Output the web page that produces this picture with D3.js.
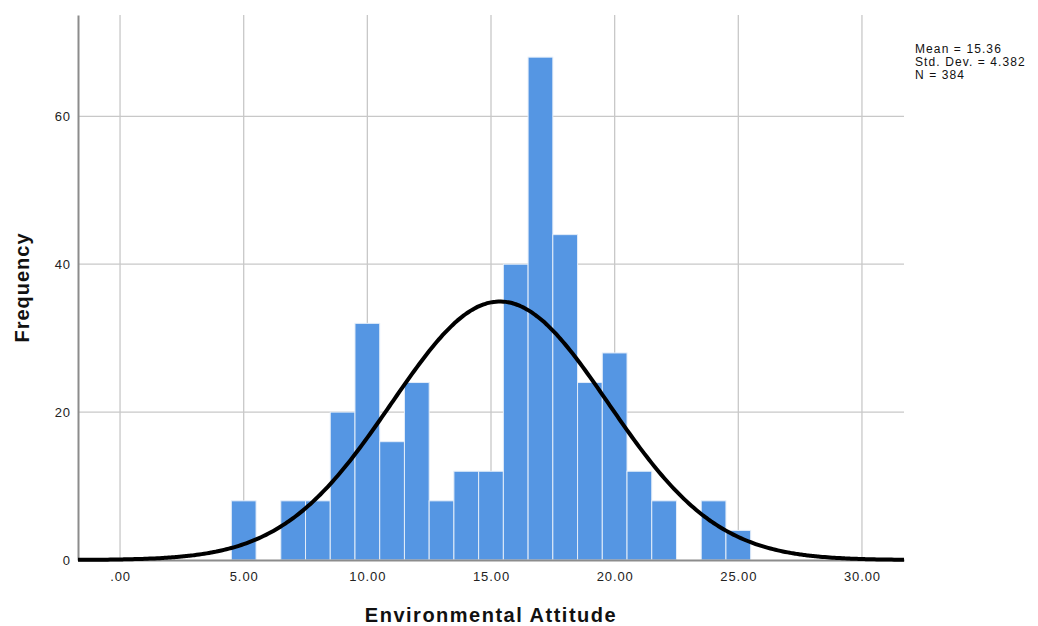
<!DOCTYPE html>
<html>
<head>
<meta charset="utf-8">
<script src="https://cdn.jsdelivr.net/npm/d3@7"></script>
<style>
    body { margin: 0; background: #fff; }
    svg { display: block; font-family: "Liberation Sans", Arial, sans-serif; }
</style>
</head>
<body>
<div id="chart"></div>
<script>
// Histogram bins (centre value of each 1-unit bin) and their counts
const binCenters = [5, 6, 7, 8, 9, 10, 11, 12, 13, 14, 15, 16, 17, 18, 19, 20, 21, 22, 23, 24, 25];
const counts = [8, 0, 8, 8, 20, 32, 16, 24, 8, 12, 12, 40, 68, 44, 24, 28, 12, 8, 0, 8, 4];

const xTicks = [0, 5, 10, 15, 20, 25, 30];
const yTicks = [0, 20, 40, 60];

// Summary statistics shown in the corner
const mean = 15.36;
const stdDev = 4.382;
const n = 384;
const statLines = ['Mean = 15.36', 'Std. Dev. = 4.382', 'N = 384'];

const width = 1038, height = 626;
const margin = { left: 78, right: 134, top: 15, bottom: 66 };

const svg = d3.select('#chart')
    .append('svg')
    .attr('width', width)
    .attr('height', height);

const x = d3.scaleLinear()
    .domain([-1.7, 31.7])
    .range([margin.left, width - margin.right]);

const y = d3.scaleLinear()
    .domain([0, 73.7])
    .range([height - margin.bottom, margin.top]);

// Gridlines
svg.append('g')
    .selectAll('line.vgrid')
    .data(xTicks)
    .enter()
    .append('line')
    .attr('x1', d => x(d)).attr('x2', d => x(d))
    .attr('y1', y.range()[1]).attr('y2', y.range()[0])
    .attr('stroke', '#c8c8c8')
    .attr('stroke-width', 1.3);

svg.append('g')
    .selectAll('line.hgrid')
    .data(yTicks.filter(d => d > 0))
    .enter()
    .append('line')
    .attr('x1', x.range()[0]).attr('x2', x.range()[1])
    .attr('y1', d => y(d)).attr('y2', d => y(d))
    .attr('stroke', '#c8c8c8')
    .attr('stroke-width', 1.3);

// Bars
const bins = binCenters.map((c, i) => ({ c, v: counts[i] })).filter(d => d.v > 0);
svg.append('g')
    .selectAll('rect')
    .data(bins)
    .enter()
    .append('rect')
    .attr('x', d => x(d.c - 0.5))
    .attr('width', d => x(d.c + 0.5) - x(d.c - 0.5))
    .attr('y', d => y(d.v))
    .attr('height', d => y(0) - y(d.v))
    .attr('fill', '#5596e3')
    .attr('stroke', '#e3edf9')
    .attr('stroke-width', 1);

// Axes
const xAxis = svg.append('g')
    .attr('transform', `translate(0,${y(0)})`)
    .call(d3.axisBottom(x)
        .tickValues(xTicks)
        .tickSize(0)
        .tickPadding(12)
        .tickFormat(d => d === 0 ? '.00' : d3.format('.2f')(d)));
xAxis.select('.domain').attr('stroke', '#8c8c8c').attr('stroke-width', 2);
xAxis.selectAll('text')
    .attr('font-size', 13)
    .attr('letter-spacing', '0.9px')
    .attr('fill', '#222')
    .attr('font-family', '"Liberation Sans", Arial, sans-serif');

const yAxis = svg.append('g')
    .attr('transform', `translate(${x.range()[0]},0)`)
    .call(d3.axisLeft(y)
        .tickValues(yTicks)
        .tickSize(0)
        .tickPadding(7));
yAxis.select('.domain').attr('stroke', '#8c8c8c').attr('stroke-width', 2);
yAxis.selectAll('text')
    .attr('font-size', 13)
    .attr('letter-spacing', '0.9px')
    .attr('fill', '#222')
    .attr('font-family', '"Liberation Sans", Arial, sans-serif');

// Normal curve from the reported mean / SD / N (bin width 1)
const pdf = v => n * Math.exp(-0.5 * Math.pow((v - mean) / stdDev, 2)) / (stdDev * Math.sqrt(2 * Math.PI));
const curveXs = d3.range(x.domain()[0], x.domain()[1] + 0.001, 0.1);
svg.append('path')
    .datum(curveXs)
    .attr('fill', 'none')
    .attr('stroke', '#000')
    .attr('stroke-width', 4)
    .attr('stroke-linejoin', 'round')
    .attr('d', d3.line().x(d => x(d)).y(d => y(pdf(d))).curve(d3.curveBasis));

// Axis titles
svg.append('text')
    .attr('x', x(15))
    .attr('y', 622)
    .attr('text-anchor', 'middle')
    .attr('font-size', 20)
    .attr('font-weight', 'bold')
    .attr('letter-spacing', '1.5px')
    .attr('fill', '#111')
    .text('Environmental Attitude');

svg.append('text')
    .attr('transform', `translate(29,${(y.range()[0] + y.range()[1]) / 2}) rotate(-90)`)
    .attr('text-anchor', 'middle')
    .attr('font-size', 20)
    .attr('font-weight', 'bold')
    .attr('letter-spacing', '1px')
    .attr('fill', '#111')
    .text('Frequency');

// Stats box
svg.append('g')
    .selectAll('text')
    .data(statLines)
    .enter()
    .append('text')
    .attr('x', 915)
    .attr('y', (d, i) => 53 + i * 13)
    .attr('font-size', 12)
    .attr('letter-spacing', '1.1px')
    .attr('fill', '#111')
    .text(d => d);
</script>
</body>
</html>
